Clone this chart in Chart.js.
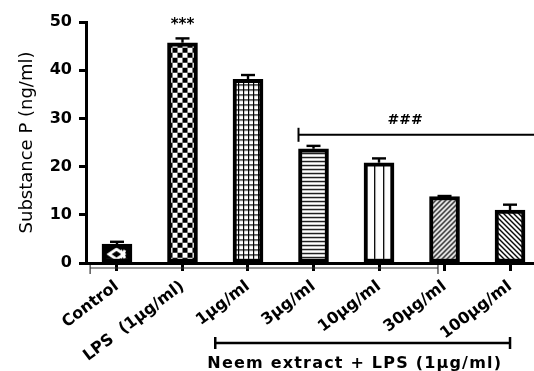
<!DOCTYPE html>
<html><head><meta charset="utf-8">
<script src="https://cdn.jsdelivr.net/npm/chart.js@4"></script>
<style>html,body{margin:0;padding:0;background:#fff;overflow:hidden}</style>
</head><body>
<canvas id="c" width="534" height="371"></canvas>
<script>
// ---- data ----
const categories = ['Control', 'LPS  (1\u03bcg/ml)', '1\u03bcg/ml', '3\u03bcg/ml', '10\u03bcg/ml', '30\u03bcg/ml', '100\u03bcg/ml'];
const means = [3.9, 45.7, 38.1, 23.7, 20.8, 13.8, 11.0];
const sem = [0.5, 0.9, 0.9, 0.6, 0.9, 0.1, 1.1];
const yTicks = [0, 10, 20, 30, 40, 50];
const fills = ['diamond', 'checker', 'grid', 'hlines', 'vlines', 'diagUp', 'diagDown'];
const yTitle = 'Substance P (ng/ml)';
const sigLPS = '***';
const sigNeem = '###';
const groupLabel = 'Neem extract + LPS (1\u03bcg/ml)';
// annotation anchors (data units)
const sigLPSAt = {x: 1, y: 49.3};
const sigNeemAt = {x: 4.4, y: 29.6};
const neemLineY = 26.6;
const neemLineFrom = 3;      // starts at left edge of this bar
const groupFrom = 1.5, groupTo = 6, groupTextX = 3.63;

const FONT = 'DejaVu Sans';

function tile(w, h, draw) {
  const c = document.createElement('canvas');
  c.width = w; c.height = h;
  const g = c.getContext('2d');
  g.fillStyle = '#fff'; g.fillRect(0, 0, w, h);
  draw(g, w, h);
  return document.getElementById('c').getContext('2d').createPattern(c, 'repeat');
}
function makePattern(kind) {
  switch (kind) {
    case 'diamond': return tile(60, 60, (g) => {
      g.fillStyle = '#000'; g.fillRect(0, 0, 60, 60);
      g.strokeStyle = '#fff'; g.lineWidth = 2.8;
      g.beginPath(); g.moveTo(7, 10); g.lineTo(14.5, 5); g.lineTo(22, 10); g.lineTo(14.5, 15); g.closePath(); g.stroke();
      g.beginPath(); g.moveTo(18.5, 6); g.lineTo(23, 14); g.moveTo(18.5, 14); g.lineTo(23, 6); g.stroke();
    });
    case 'checker': return tile(10, 10, (g) => {
      g.fillStyle = '#000'; g.fillRect(0, 0, 5, 5); g.fillRect(5, 5, 5, 5);
    });
    case 'grid': return tile(5, 5, (g) => {
      g.fillStyle = '#000'; g.fillRect(0, 0, 5, 1.2); g.fillRect(0, 0, 1.2, 5);
    });
    case 'hlines': return tile(4, 4.2, (g) => {
      g.fillStyle = '#000'; g.fillRect(0, 0, 4, 1.3);
    });
    case 'vlines': return tile(9, 4, (g) => {
      g.fillStyle = '#000'; g.fillRect(1, 0, 1.3, 4);
    });
    case 'diagUp': return tile(5, 5, (g) => {
      g.strokeStyle = '#000'; g.lineWidth = 1.4;
      g.beginPath(); g.moveTo(-1, 6); g.lineTo(6, -1); g.moveTo(-1, 1); g.lineTo(1, -1); g.moveTo(4, 6); g.lineTo(6, 4); g.stroke();
    });
    case 'diagDown': return tile(5, 5, (g) => {
      g.strokeStyle = '#000'; g.lineWidth = 1.4;
      g.beginPath(); g.moveTo(-1, -1); g.lineTo(6, 6); g.moveTo(4, -1); g.lineTo(6, 1); g.moveTo(-1, 4); g.lineTo(1, 6); g.stroke();
    });
  }
}
const patternObjs = fills.map(makePattern);

const alignPatterns = {
  id: 'alignPatterns',
  beforeDatasetsDraw(chart) {
    chart.getDatasetMeta(0).data.forEach((bar, i) => {
      const p = patternObjs[i];
      if (p && p.setTransform) p.setTransform(new DOMMatrix().translate(bar.x - bar.width / 2, bar.y));
    });
  }
};

const extras = {
  id: 'extras',
  afterDatasetsDraw(chart) {
    const ctx = chart.ctx, xs = chart.scales.x, ys = chart.scales.y, ca = chart.chartArea;
    const line = (x1, y1, x2, y2) => { ctx.beginPath(); ctx.moveTo(x1, y1); ctx.lineTo(x2, y2); ctx.stroke(); };
    ctx.save();
    ctx.strokeStyle = '#000'; ctx.fillStyle = '#000'; ctx.lineCap = 'butt';
    // error bars
    ctx.lineWidth = 2.4;
    means.forEach((m, i) => {
      const x = xs.getPixelForValue(i);
      const y0 = ys.getPixelForValue(m), y1 = ys.getPixelForValue(m + sem[i]);
      line(x, y0, x, y1);
      line(x - 7, y1, x + 7, y1);
    });
    // significance marks
    ctx.textAlign = 'center'; ctx.textBaseline = 'middle';
    ctx.font = 'bold 15px "' + FONT + '"';
    ctx.fillText(sigLPS, xs.getPixelForValue(sigLPSAt.x), ys.getPixelForValue(sigLPSAt.y));
    ctx.font = 'bold 14px "' + FONT + '"';
    ctx.fillText(sigNeem, xs.getPixelForValue(sigNeemAt.x), ys.getPixelForValue(sigNeemAt.y));
    const meta = chart.getDatasetMeta(0).data;
    const ly = ys.getPixelForValue(neemLineY);
    const lx = xs.getPixelForValue(neemLineFrom) - meta[neemLineFrom].width / 2;
    ctx.lineWidth = 2;
    line(lx, ly, ca.right, ly);
    line(lx, ly - 7, lx, ly + 7);
    // thin line under the axis
    ctx.lineWidth = 1.2; ctx.strokeStyle = '#333';
    const ty = ca.bottom + 5;
    const tx1 = xs.getPixelForValue(-0.41), tx2 = xs.getPixelForValue(4.9);
    line(tx1, ty, tx2, ty);
    line(tx1, ty - 3, tx1, ty + 6);
    line(tx2, ty - 3, tx2, ty + 6);
    // group bracket
    ctx.strokeStyle = '#000'; ctx.lineWidth = 2.5;
    const gy = ca.bottom + 80;
    const gx1 = xs.getPixelForValue(groupFrom), gx2 = xs.getPixelForValue(groupTo);
    line(gx1, gy, gx2, gy);
    line(gx1, gy - 6, gx1, gy + 6);
    line(gx2, gy - 6, gx2, gy + 6);
    ctx.font = 'bold 16px "' + FONT + '"';
    try { ctx.letterSpacing = '1.2px'; } catch (e) {}
    ctx.textBaseline = 'alphabetic';
    ctx.fillText(groupLabel, xs.getPixelForValue(groupTextX), ca.bottom + 105);
    ctx.restore();
  }
};

new Chart(document.getElementById('c'), {
  type: 'bar',
  data: {
    datasets: [{
      data: means.map((v, i) => ({x: i, y: v})),
      backgroundColor: patternObjs,
      borderColor: '#000',
      borderWidth: 4,
      borderSkipped: false,
      barThickness: 30
    }]
  },
  options: {
    responsive: false,
    animation: false,
    events: [],
    layout: {padding: {top: 22, left: 0, right: 0, bottom: 0}},
    plugins: {legend: {display: false}, tooltip: {enabled: false}},
    scales: {
      x: {
        type: 'linear', min: -0.473, max: 6.366, offset: false,
        afterFit(s) { s.height = 108; },
        border: {color: '#000', width: 3},
        grid: {offset: false, drawOnChartArea: false, drawTicks: true, tickLength: 8, tickColor: '#000', tickWidth: 3, color: '#000'},
        ticks: {
          stepSize: 1, includeBounds: false, autoSkip: false, minRotation: 37, maxRotation: 37, padding: 6,
          color: '#000', font: {family: FONT, weight: 'bold', size: 16},
          callback: (v) => (Number.isInteger(v) && categories[v] !== undefined) ? categories[v] : ''
        }
      },
      y: {
        min: 0, max: 50,
        afterFit(s) { s.width = 86; },
        afterBuildTicks(s) { s.ticks = yTicks.map(v => ({value: v})); },
        border: {color: '#000', width: 3},
        grid: {drawOnChartArea: false, drawTicks: true, tickLength: 7, tickColor: '#000', tickWidth: 3, color: '#000'},
        ticks: {padding: 7, color: '#000', font: {family: FONT, weight: 'bold', size: 16}},
        title: {display: true, text: yTitle, color: '#000', font: {family: FONT, size: 18}, padding: {top: 17, bottom: 0}}
      }
    }
  },
  plugins: [alignPatterns, extras]
});
</script>
</body></html>
